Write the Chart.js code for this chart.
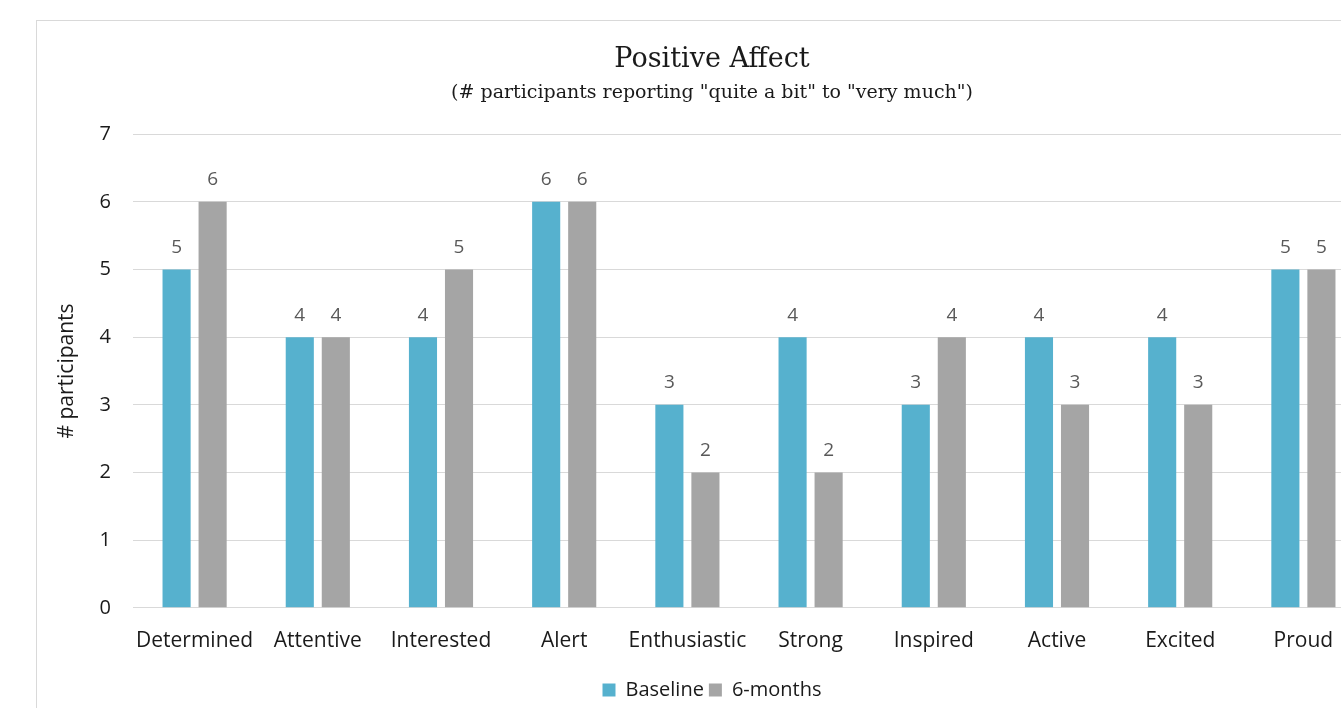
<!DOCTYPE html>
<html>
<head>
<meta charset="utf-8">
<script src="https://cdn.jsdelivr.net/npm/chart.js@4/dist/chart.umd.min.js"></script>
<style>
  html, body { margin: 0; padding: 0; background: #fff; overflow: hidden; width: 1341px; height: 708px; }
  #frame { position: absolute; left: 36px; top: 20px; width: 1350px; height: 700px; border: 1px solid #d9d9d9; background: #fff; }
  #wrap { position: absolute; left: 0; top: 0; width: 1350px; height: 690px; }
</style>
</head>
<body>
<div id="frame"><div id="wrap"><canvas id="c"></canvas></div></div>
<script>
// Emotion categories and participant counts for the two time points
const categories = ['Determined', 'Attentive', 'Interested', 'Alert', 'Enthusiastic', 'Strong', 'Inspired', 'Active', 'Excited', 'Proud'];
const baseline = [5, 4, 4, 6, 3, 4, 3, 4, 4, 5];
const sixMonths = [6, 4, 5, 6, 2, 2, 4, 3, 3, 5];
const yTicks = [0, 1, 2, 3, 4, 5, 6, 7];

const SANS = '"Open Sans", "Noto Sans", sans-serif';
const SERIF = '"DejaVu Serif", "Liberation Serif", serif';

// Writes each bar's value just above it
const valueLabels = {
  id: 'valueLabels',
  afterDatasetsDraw(chart) {
    const ctx = chart.ctx;
    ctx.save();
    ctx.fillStyle = '#595959';
    ctx.font = '19px ' + SANS;
    ctx.textAlign = 'center';
    ctx.textBaseline = 'middle';
    chart.data.datasets.forEach((ds, i) => {
      chart.getDatasetMeta(i).data.forEach((bar, j) => {
        ctx.fillText(String(ds.data[j]), bar.x, bar.y - 22);
      });
    });
    ctx.restore();
  }
};

new Chart(document.getElementById('c'), {
  type: 'bar',
  data: {
    labels: categories,
    datasets: [
      { label: 'Baseline', data: baseline, backgroundColor: '#56B1CE', borderWidth: 0 },
      { label: '6-months', data: sixMonths, backgroundColor: '#A5A5A5', borderWidth: 0 }
    ]
  },
  options: {
    responsive: true,
    maintainAspectRatio: false,
    animation: false,
    categoryPercentage: 0.585,
    barPercentage: 0.78,
    layout: { padding: { left: 22, right: 22, top: 0, bottom: 1 } },
    plugins: {
      title: {
        display: true,
        text: 'Positive Affect',
        color: '#1a1a1a',
        font: { family: SERIF, size: 27, weight: 'normal' },
        padding: { top: 23, bottom: 5 }
      },
      subtitle: {
        display: true,
        text: '(# participants reporting "quite a bit" to "very much")',
        color: '#1a1a1a',
        font: { family: SERIF, size: 19, weight: 'normal' },
        padding: { top: 0, bottom: 30 }
      },
      legend: {
        position: 'bottom',
        labels: {
          color: '#1a1a1a',
          font: { family: SANS, size: 20 },
          boxWidth: 13,
          boxHeight: 13,
          padding: 5
        }
      },
      tooltip: { enabled: false }
    },
    scales: {
      x: {
        grid: { display: false, drawTicks: false },
        border: { display: true, color: '#d9d9d9', width: 1 },
        ticks: { color: '#1a1a1a', font: { family: SANS, size: 21 }, padding: 21, maxRotation: 0, autoSkip: false }
      },
      y: {
        min: 0,
        max: 7,
        afterBuildTicks(scale) { scale.ticks = yTicks.map(v => ({ value: v })); },
        afterFit(scale) { scale.width = 74; },
        grid: { color: '#d9d9d9', drawTicks: false },
        border: { display: false },
        ticks: { color: '#1a1a1a', font: { family: SANS, size: 20 }, padding: 22 },
        title: {
          display: true,
          text: '# participants',
          color: '#1a1a1a',
          font: { family: SANS, size: 21 },
          padding: { top: -5, bottom: 0 }
        }
      }
    }
  },
  plugins: [valueLabels]
});
</script>
</body>
</html>
